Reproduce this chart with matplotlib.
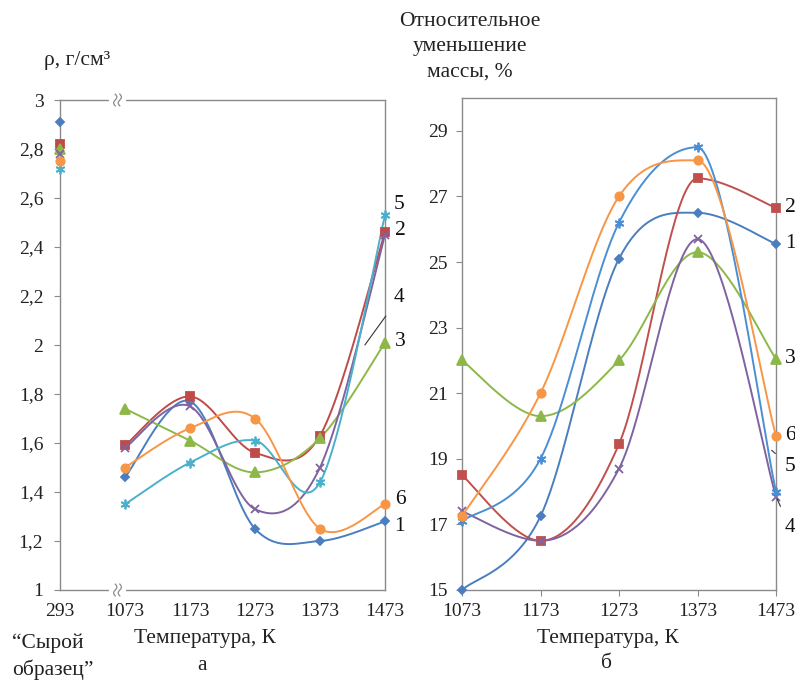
import numpy as np
import matplotlib
matplotlib.use("Agg")
from matplotlib import pyplot as plt

plt.rcParams['font.family'] = ['Liberation Serif', 'DejaVu Serif']

# --- data ---
temps_left = ["293", "1073", "1173", "1273", "1373", "1473"]
temps_right = ["1073", "1173", "1273", "1373", "1473"]

# density, g/cm3 (first value = raw sample at 293 K)
rho_1 = [2.91, 1.46, 1.77, 1.25, 1.20, 1.28]
rho_2 = [2.82, 1.59, 1.79, 1.56, 1.63, 2.46]
rho_3 = [2.80, 1.74, 1.61, 1.48, 1.62, 2.01]
rho_4 = [2.78, 1.58, 1.75, 1.33, 1.50, 2.45]
rho_5 = [2.72, 1.35, 1.52, 1.61, 1.44, 2.53]
rho_6 = [2.75, 1.50, 1.66, 1.70, 1.25, 1.35]

# relative mass loss, %
loss_1 = [15.0, 17.25, 25.1, 26.5, 25.55]
loss_2 = [18.5, 16.5, 19.45, 27.55, 26.65]
loss_3 = [22.0, 20.3, 22.0, 25.3, 22.05]
loss_4 = [17.4, 16.5, 18.7, 25.7, 17.85]
loss_5 = [17.1, 19.0, 26.2, 28.5, 18.0]
loss_6 = [17.25, 21.0, 27.0, 28.1, 19.7]

series_names = ["1", "2", "3", "4", "5", "6"]
colors_left = ["#4A7EBF", "#BE4B48", "#8DB849", "#7F63A1", "#4BB0CC", "#F79646"]
colors_right = ["#4A7EBF", "#C0504D", "#8DB849", "#7F63A1", "#4A8FD4", "#F79646"]
markers = ["D", "s", "^", "x", (6, 2, 0), "o"]
msizes = [4.5, 6, 6.5, 6, 7, 6]

GRAY = "#8A8A8A"


def smooth(xs, ys, n=40, flat_peaks=False):
    # smoothed line through the points (cubic Hermite, Catmull-Rom tangents)
    xs = np.asarray(xs, float)
    ys = np.asarray(ys, float)
    k = len(xs)
    mx = np.ones(k)
    my = np.zeros(k)
    for i in range(k):
        a = max(i - 1, 0)
        b = min(i + 1, k - 1)
        mx[i] = (xs[b] - xs[a]) / 2
        my[i] = (ys[b] - ys[a]) / 2
        if flat_peaks and 0 < i < k - 1:
            if (ys[i] - ys[a]) * (ys[b] - ys[i]) <= 0:
                my[i] = 0.0
    t = np.linspace(0, 1, n)
    h00 = 2 * t**3 - 3 * t**2 + 1
    h10 = t**3 - 2 * t**2 + t
    h01 = -2 * t**3 + 3 * t**2
    h11 = t**3 - t**2
    px, py = [], []
    for i in range(k - 1):
        sx = h00 * xs[i] + h10 * mx[i] + h01 * xs[i + 1] + h11 * mx[i + 1]
        sy = h00 * ys[i] + h10 * my[i] + h01 * ys[i + 1] + h11 * my[i + 1]
        if i > 0:
            sx, sy = sx[1:], sy[1:]
        px.append(sx)
        py.append(sy)
    return np.concatenate(px), np.concatenate(py)


def style_axes(ax):
    for s in ax.spines.values():
        s.set_color(GRAY)
        s.set_linewidth(1.0)
    ax.tick_params(axis='both', colors=GRAY, labelcolor='#222222',
                   labelsize=14, length=4, width=0.8, direction='out')


def comma(v):
    return ("%g" % v).replace(".", ",")


fig = plt.figure(figsize=(7.95, 6.82), dpi=100)

# ---------- left panel: density ----------
axl = fig.add_axes([60 / 795, 92 / 682, 325 / 795, 490 / 682])
style_axes(axl)
rho_all = [rho_1, rho_2, rho_3, rho_4, rho_5, rho_6]
xl = np.arange(len(temps_left))
for vals, c, m, ms in zip(rho_all, colors_left, markers, msizes):
    sx, sy = smooth(xl[1:], vals[1:])
    axl.plot(sx, sy, color=c, lw=1.4, zorder=2)
    axl.plot(xl, vals, ls='none', marker=m, ms=ms, color=c, mec=c,
             mew=1.3, clip_on=False, zorder=3)
axl.set_xlim(0, 5)
axl.set_ylim(1, 3)
axl.set_xticks(xl)
axl.set_xticklabels(temps_left)
yt = np.arange(1.0, 3.01, 0.2)
axl.set_yticks(yt)
axl.set_yticklabels([comma(round(v, 1)) for v in yt])
axl.tick_params(axis='x', length=0, pad=9)
axl.tick_params(axis='y', pad=8)

# axis break marks between 293 and 1073
for yb in (0, 1):
    axl.plot([0.78, 0.98], [yb, yb], color='white', lw=3,
             transform=axl.get_xaxis_transform(), clip_on=False, zorder=4)
    tt = np.linspace(-1, 1, 20)
    for dx in (0.0, 0.07):
        axl.plot(0.85 + dx + 0.025 * np.sin(tt * np.pi), yb + tt * 0.012,
                 color=GRAY, lw=0.9, transform=axl.get_xaxis_transform(),
                 clip_on=False, zorder=5)

lab_kw = dict(fontsize=15.5, color='#111111', textcoords='offset pixels',
              ha='center', va='center', annotation_clip=False)
axl.annotate("5", xy=(5, rho_5[-1]), xytext=(14, 11), **lab_kw)
axl.annotate("2", xy=(5, rho_2[-1]), xytext=(15, 2), **lab_kw)
axl.annotate("4", xy=(4.69, 2.0), xytext=(34, 47),
             arrowprops=dict(arrowstyle='-', color='#333333', lw=0.8,
                             shrinkA=6, shrinkB=0), **lab_kw)
axl.annotate("3", xy=(5, rho_3[-1]), xytext=(15, 1), **lab_kw)
axl.annotate("6", xy=(5, rho_6[-1]), xytext=(15, 5), **lab_kw)
axl.annotate("1", xy=(5, rho_1[-1]), xytext=(14, -5), **lab_kw)

# ---------- right panel: mass loss ----------
axr = fig.add_axes([462 / 795, 92 / 682, 314 / 795, 492 / 682])
style_axes(axr)
loss_all = [loss_1, loss_2, loss_3, loss_4, loss_5, loss_6]
xr = np.arange(len(temps_right))
for vals, c, m, ms in zip(loss_all, colors_right, markers, msizes):
    sx, sy = smooth(xr, vals, flat_peaks=True)
    axr.plot(sx, sy, color=c, lw=1.4, zorder=2)
    axr.plot(xr, vals, ls='none', marker=m, ms=ms, color=c, mec=c,
             mew=1.3, clip_on=False, zorder=3)
axr.set_xlim(0, 4)
axr.set_ylim(15, 30)
axr.set_xticks(xr)
axr.set_xticklabels(temps_right)
axr.set_yticks(np.arange(15, 30, 2))
axr.tick_params(axis='x', pad=5)
axr.tick_params(axis='y', pad=6)

axr.annotate("2", xy=(4, loss_2[-1]), xytext=(14, 0), **lab_kw)
axr.annotate("1", xy=(4, loss_1[-1]), xytext=(14, 0), **lab_kw)
axr.annotate("3", xy=(4, loss_3[-1]), xytext=(14, 0), **lab_kw)
axr.annotate("6", xy=(4, loss_6[-1]), xytext=(14, 0), **lab_kw)
axr.annotate("5", xy=(3.945, 19.26), xytext=(18, -16),
             arrowprops=dict(arrowstyle='-', color='#333333', lw=0.8,
                             shrinkA=6, shrinkB=0), **lab_kw)
axr.annotate("4", xy=(4, loss_4[-1]), xytext=(14, -31),
             arrowprops=dict(arrowstyle='-', color='#333333', lw=0.8,
                             shrinkA=7, shrinkB=2), **lab_kw)

# ---------- titles / labels ----------
txt = dict(fontsize=15.5, color='#222222')
fig.text(77 / 795, 1 - 60 / 682, "ρ, г/см³", ha='center', va='center', **txt)
fig.text(470 / 795, 1 - 47 / 682, "Относительное\nуменьшение\nмассы, %",
         ha='center', va='center', linespacing=1.45, **txt)
fig.text(205 / 795, 1 - 638 / 682, "Температура, К", ha='center', va='center', **txt)
fig.text(202 / 795, 1 - 666 / 682, "а", ha='center', va='center', **txt)
fig.text(12 / 795, 1 - 657 / 682, "“Сырой\nобразец”", ha='left', va='center',
         linespacing=1.4, **txt)
fig.text(608 / 795, 1 - 638 / 682, "Температура, К", ha='center', va='center', **txt)
fig.text(607 / 795, 1 - 664 / 682, "б", ha='center', va='center', **txt)

fig.savefig("out.png", dpi=100)
